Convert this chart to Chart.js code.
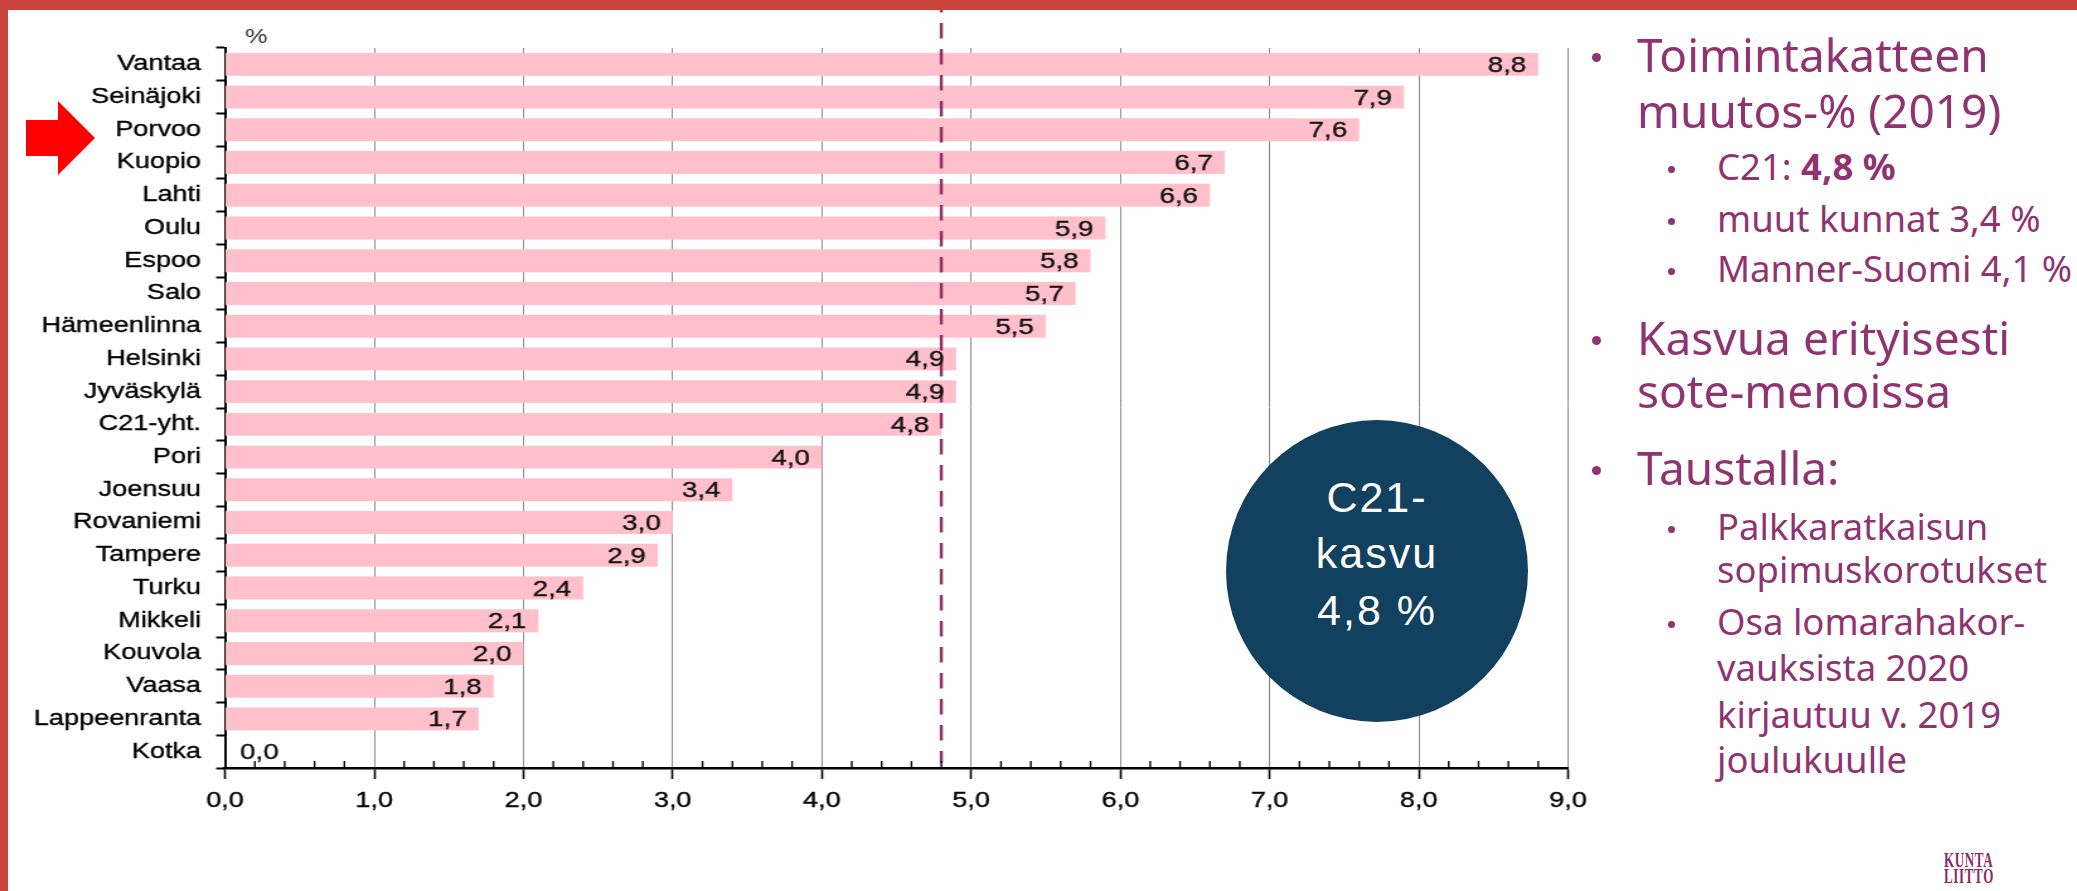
<!DOCTYPE html>
<html>
<head>
<meta charset="utf-8">
<script src="https://cdn.jsdelivr.net/npm/chart.js@4.4.1/dist/chart.umd.min.js"></script>
<style>
  html, body { margin: 0; padding: 0; background: #fff; }
  body { width: 2077px; height: 891px; position: relative; overflow: hidden; }
  #chart { position: absolute; left: 0; top: 0; width: 1286px; height: 891px;
           transform: scaleX(1.26); transform-origin: 0 0; }
  .bar-top { position: absolute; left: 0; top: 0; width: 2077px; height: 10px; background: #c8443a; z-index: 5; }
  .bar-left { position: absolute; left: 0; top: 0; width: 8px; height: 891px; background: #c8443a; z-index: 5; }
  .txt { position: absolute; font-family: 'Noto Sans', sans-serif; color: #8f3470; white-space: nowrap; line-height: 1; }
  .main { font-size: 46px; left: 1637px; }
  .sub { font-size: 36.5px; left: 1717px; }
  .dot { position: absolute; border-radius: 50%; background: #8f3470; }
  .dot.m { width: 9px; height: 9px; left: 1591.5px; }
  .dot.s { width: 7px; height: 7px; left: 1668px; }
  .circle { position: absolute; left: 1226px; top: 420px; width: 302px; height: 302px; border-radius: 50%;
            background: #12405f; z-index: 3; }
  .circle div { position: absolute; left: 0; width: 302px; text-align: center; color: #fff;
                font-family: 'Liberation Sans', Arial, sans-serif; font-size: 43px; line-height: 1; letter-spacing: 2px; }
  .logo { position: absolute; font-family: 'Liberation Serif', serif; font-weight: bold; font-size: 20px;
          line-height: 1; letter-spacing: 1px; color: #8b2a62; transform: scaleX(0.65); transform-origin: 0 0; }
</style>
</head>
<body>
<div class="bar-top"></div>
<div class="bar-left"></div>
<svg style="position:absolute;left:0;top:0" width="120" height="200">
  <polygon points="26,120 58,120 58,101 95,138 58,175 58,156 26,156" fill="#ff0000"/>
</svg>

<canvas id="chart" width="1286" height="891"></canvas>

<div class="circle">
  <div style="top:55.6px">C21-</div>
  <div style="top:111.6px">kasvu</div>
  <div style="top:168.6px">4,8 %</div>
</div>

<div class="dot m" style="top:53px"></div>
<div class="txt main" style="top:31px">Toimintakatteen</div>
<div class="txt main" style="top:87px">muutos-% (2019)</div>
<div class="dot s" style="top:165.5px"></div>
<div class="txt sub" style="top:147.6px">C21: <b>4,8 %</b></div>
<div class="dot s" style="top:217.5px"></div>
<div class="txt sub" style="top:199.6px">muut kunnat 3,4 %</div>
<div class="dot s" style="top:267.5px"></div>
<div class="txt sub" style="top:249.6px">Manner-Suomi 4,1 %</div>
<div class="dot m" style="top:336px"></div>
<div class="txt main" style="top:314px">Kasvua erityisesti</div>
<div class="txt main" style="top:367px">sote-menoissa</div>
<div class="dot m" style="top:466px"></div>
<div class="txt main" style="top:444px">Taustalla:</div>
<div class="dot s" style="top:525.5px"></div>
<div class="txt sub" style="top:507.6px">Palkkaratkaisun</div>
<div class="txt sub" style="top:550.6px">sopimuskorotukset</div>
<div class="dot s" style="top:620.5px"></div>
<div class="txt sub" style="top:602.6px">Osa lomarahakor-</div>
<div class="txt sub" style="top:648.6px">vauksista 2020</div>
<div class="txt sub" style="top:695.6px">kirjautuu v. 2019</div>
<div class="txt sub" style="top:741px">joulukuulle</div>

<div class="logo" style="left:1944px;top:850px">KUNTA</div>
<div class="logo" style="left:1944px;top:866px">LIITTO</div>

<script>
const cities = ['Vantaa', 'Seinäjoki', 'Porvoo', 'Kuopio', 'Lahti', 'Oulu', 'Espoo', 'Salo',
  'Hämeenlinna', 'Helsinki', 'Jyväskylä', 'C21-yht.', 'Pori', 'Joensuu', 'Rovaniemi', 'Tampere',
  'Turku', 'Mikkeli', 'Kouvola', 'Vaasa', 'Lappeenranta', 'Kotka'];
const growth = [8.8, 7.9, 7.6, 6.7, 6.6, 5.9, 5.8, 5.7, 5.5, 4.9, 4.9, 4.8, 4.0, 3.4, 3.0, 2.9,
  2.4, 2.1, 2.0, 1.8, 1.7, 0.0];
const c21Growth = 4.8;
const xMin = 0;
const xMax = 9;
const xStep = 1;
const minorStep = 0.2;
const unitLabel = '%';

const FONT = "'Liberation Sans', Arial, sans-serif";
const fmt = (v) => Number(v).toFixed(1).replace('.', ',');

Chart.defaults.font.family = FONT;
Chart.defaults.color = '#000';

// dashed C21 line, value labels, minor ticks and the % label
const overlay = {
  id: 'overlay',
  afterDatasetsDraw(chart) {
    const { ctx, chartArea } = chart;
    const xs = chart.scales.x;

    const px = xs.getPixelForValue(c21Growth);
    ctx.save();
    ctx.strokeStyle = '#8d2b63';
    ctx.lineWidth = 2.4;
    ctx.setLineDash([15.5, 10.5]);
    ctx.lineDashOffset = 13;
    ctx.beginPath();
    ctx.moveTo(px, chartArea.top - 38);
    ctx.lineTo(px, chartArea.bottom - 5);
    ctx.stroke();
    ctx.restore();

    const meta = chart.getDatasetMeta(0);
    ctx.save();
    ctx.font = '22px ' + FONT;
    ctx.fillStyle = '#111';
    ctx.strokeStyle = '#111';
    ctx.lineWidth = 0.35;
    ctx.textBaseline = 'middle';
    meta.data.forEach((bar, i) => {
      const v = growth[i];
      let x = bar.x - 9.5;
      ctx.textAlign = 'right';
      if (v === 0) {
        ctx.textAlign = 'left';
        x = chartArea.left + 12;
      }
      ctx.strokeText(fmt(v), x, bar.y + 1.5);
      ctx.fillText(fmt(v), x, bar.y + 1.5);
    });
    ctx.restore();
  },
  afterDraw(chart) {
    const { ctx, chartArea } = chart;
    const xs = chart.scales.x;
    ctx.save();
    ctx.strokeStyle = '#000';
    ctx.lineWidth = 1.4;
    const n = Math.round((xMax - xMin) / minorStep);
    for (let i = 1; i < n; i++) {
      if (i % Math.round(xStep / minorStep) === 0) continue;
      const x = xs.getPixelForValue(xMin + i * minorStep);
      ctx.beginPath();
      ctx.moveTo(x, chartArea.bottom);
      ctx.lineTo(x, chartArea.bottom - 7);
      ctx.stroke();
    }
    ctx.font = '20px ' + FONT;
    ctx.fillStyle = '#333';
    ctx.textAlign = 'left';
    ctx.textBaseline = 'middle';
    ctx.fillText(unitLabel, chartArea.left + 16, chartArea.top - 11);
    ctx.restore();
  }
};

new Chart(document.getElementById('chart'), {
  type: 'bar',
  data: {
    labels: cities,
    datasets: [{
      data: growth,
      backgroundColor: '#ffc0cb',
      barPercentage: 0.7,
      categoryPercentage: 1
    }]
  },
  options: {
    indexAxis: 'y',
    responsive: false,
    animation: false,
    layout: { padding: { left: 0, top: 48, right: 41.5, bottom: 0 } },
    plugins: { legend: { display: false }, tooltip: { enabled: false } },
    scales: {
      x: {
        min: xMin,
        max: xMax,
        ticks: { stepSize: xStep, padding: 9.5, font: { size: 21.5 }, color: '#000',
          textStrokeColor: '#000', textStrokeWidth: 0.35,
          callback: (v) => fmt(v) },
        grid: { color: '#8c8c8c', lineWidth: 1, tickLength: 11, tickColor: '#000', tickWidth: 1.6 },
        border: { color: '#000', width: 2.5 },
        afterFit: (s) => { s.height = 123; }
      },
      y: {
        ticks: { padding: 12, font: { size: 21.5 }, color: '#000', autoSkip: false,
          textStrokeColor: '#000', textStrokeWidth: 0.35 },
        grid: { drawOnChartArea: false, offset: true, tickLength: 7, tickColor: '#000', tickWidth: 2 },
        border: { color: '#000', width: 2 },
        afterFit: (s) => { s.width = 178.57; }
      }
    }
  },
  plugins: [overlay]
});
</script>
</body>
</html>
